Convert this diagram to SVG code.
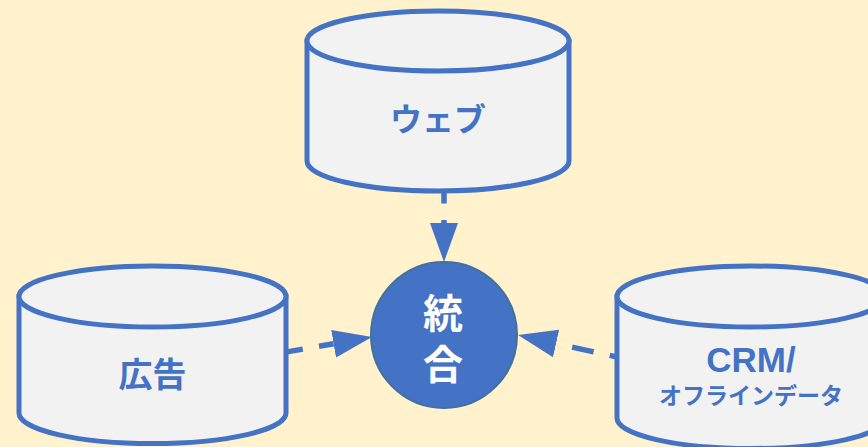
<svg xmlns="http://www.w3.org/2000/svg" width="868" height="447" viewBox="0 0 868 447">
<style>
.cyl{fill:#F2F2F2;stroke:#4472C4;stroke-width:5}
.lbl{fill:#4472C4;font-family:"Liberation Sans","Noto Sans CJK JP",sans-serif;font-weight:700;text-anchor:middle}
.con{fill:none;stroke:#4472C4;stroke-width:5.5;stroke-dasharray:22 16.5}
.hub{fill:#4472C4;stroke:#41719C;stroke-width:2}
.hubt{fill:#FFFFFF;font-family:"Noto Sans CJK JP",sans-serif;font-weight:700;font-size:40px;text-anchor:middle}
</style>
<defs>
<marker id="ah" markerUnits="userSpaceOnUse" markerWidth="40" markerHeight="29" refX="0" refY="14" orient="auto" viewBox="0 0 40 28">
<path d="M0,0 L39,14 L0,28 Z" fill="#4472C4"/>
</marker>
</defs>
<rect width="868" height="447" fill="#FFF2CC"/>
<g id="connectors">
<path class="con" d="M444,181.5 L444,223" marker-end="url(#ah)"/>
<path class="con" d="M281.1,352.9 L333.6,343.7" marker-end="url(#ah)"/>
<path class="con" d="M631.2,360.2 L556.1,343.5" marker-end="url(#ah)"/>
</g>
<g id="web">
<path class="cyl" d="M307,41 L307,161 A131,30 0 0 0 569,161 L569,41 Z"/>
<ellipse class="cyl" cx="438" cy="41" rx="131" ry="30"/>
<text class="lbl" x="438" y="131" font-size="32">ウェブ</text>
</g>
<g id="ads">
<path class="cyl" d="M19,296.5 L19,413 A133,30.5 0 0 0 286,413 L286,296.5 Z"/>
<ellipse class="cyl" cx="152.5" cy="296.5" rx="133.5" ry="30.5"/>
<text class="lbl" x="152.5" y="387" font-size="34">広告</text>
</g>
<g id="crm">
<path class="cyl" d="M617,296.5 L617,418 A134,30.5 0 0 0 885,418 L885,296.5 Z"/>
<ellipse class="cyl" cx="751" cy="296.5" rx="134" ry="30.5"/>
<text class="lbl" x="751" y="372" font-size="35">CRM/</text>
<text class="lbl" x="751" y="404" font-size="23">オフラインデータ</text>
</g>
<g id="hub">
<circle class="hub" cx="444" cy="335" r="73"/>
<text class="hubt" x="443" y="328">統</text>
<text class="hubt" x="443" y="379">合</text>
</g>
</svg>
